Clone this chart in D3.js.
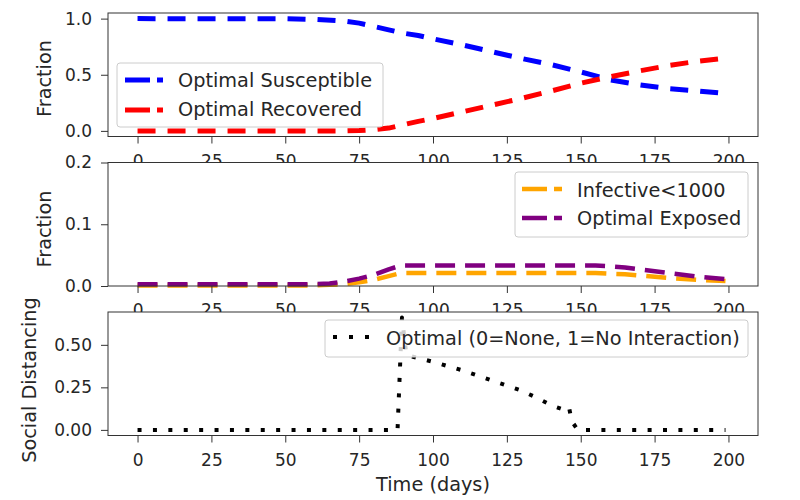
<!DOCTYPE html>
<html>
<head>
<meta charset="utf-8">
<script src="https://cdn.jsdelivr.net/npm/d3@7"></script>
<style>
  body { margin: 0; background: #fff; }
  svg { display: block; }
  text { font-family: "DejaVu Sans", sans-serif; fill: #262626; }
</style>
</head>
<body>
<svg id="chart" width="800" height="500"></svg>
<script>
// ---------------- data ----------------
const xTicks = [0, 25, 50, 75, 100, 125, 150, 175, 200];

// panel 1: susceptible / recovered
const timeSR = [0, 50, 60, 70, 75, 80, 85, 90, 95, 100, 110, 120, 130, 140, 150, 160, 170, 180, 190, 199];
const optimalSusceptible = [1.0, 0.999, 0.993, 0.978, 0.96, 0.93, 0.9, 0.87, 0.85, 0.82, 0.765, 0.705, 0.645, 0.59, 0.525, 0.455, 0.41, 0.375, 0.355, 0.333];
const optimalRecovered   = [0.0, 0.0, 0.0, 0.0, 0.003, 0.01, 0.025, 0.055, 0.085, 0.11, 0.17, 0.23, 0.29, 0.355, 0.425, 0.482, 0.535, 0.583, 0.622, 0.648];
const yTicks1 = [0.0, 0.5, 1.0];
const yLabels1 = ["0.0", "0.5", "1.0"];

// panel 2: infective / exposed
const timeEI = [0, 60, 65, 70, 75, 80, 85, 89, 90, 155, 160, 165, 170, 180, 190, 199];
const infective = [0.001, 0.001, 0.002, 0.003, 0.006, 0.01, 0.016, 0.021, 0.021, 0.021, 0.02, 0.019, 0.017, 0.013, 0.01, 0.008];
const optimalExposed = [0.003, 0.003, 0.004, 0.007, 0.012, 0.018, 0.027, 0.033, 0.033, 0.033, 0.032, 0.03, 0.027, 0.021, 0.015, 0.011];
const yTicks2 = [0.0, 0.1, 0.2];
const yLabels2 = ["0.0", "0.1", "0.2"];

// panel 3: social distancing
const timeSD = [0, 88, 89.5, 91, 100, 110, 120, 130, 135, 140, 144, 146, 147, 149, 199];
const optimalDistancing = [0, 0, 0.66, 0.44, 0.40, 0.35, 0.29, 0.23, 0.19, 0.145, 0.12, 0.135, 0.05, 0, 0];
const yTicks3 = [0.0, 0.25, 0.5];
const yLabels3 = ["0.00", "0.25", "0.50"];

// ---------------- layout ----------------
const svg = d3.select("#chart");
const L = 108, R = 758, H = 123.5;
const tops = [13, 162.5, 312];
const x = d3.scaleLinear().domain([-10, 210]).range([L, R]);
const TICK_FS = 17, LABEL_FS = 19.3, LEG_FS = 19.3;

function drawAxes(g, y, top, yTicks, yLabels) {
  const bottom = top + H;
  const xa = d3.axisBottom(x).tickValues(xTicks).tickSize(7).tickSizeOuter(0).tickPadding(11).tickFormat(d3.format("d"));
  const gx = g.append("g").attr("transform", `translate(0,${bottom})`).call(xa);
  gx.select(".domain").remove();
  gx.selectAll("line").attr("stroke", "#333").attr("stroke-width", 1);
  gx.selectAll("text").attr("font-size", TICK_FS).attr("font-family", "DejaVu Sans").attr("fill", "#262626");

  const ya = d3.axisLeft(y).tickValues(yTicks).tickSize(7).tickSizeOuter(0).tickPadding(9)
    .tickFormat((d, i) => yLabels[i]);
  const gy = g.append("g").attr("transform", `translate(${L},0)`).call(ya);
  gy.select(".domain").remove();
  gy.selectAll("line").attr("stroke", "#333").attr("stroke-width", 1);
  gy.selectAll("text").attr("font-size", TICK_FS).attr("font-family", "DejaVu Sans").attr("fill", "#262626");

  g.append("rect").attr("x", L).attr("y", top).attr("width", R - L).attr("height", H)
    .attr("fill", "none").attr("stroke", "#333").attr("stroke-width", 1);
}

function drawLine(g, xs, ys, y, color, width, dash) {
  const pts = xs.map((t, i) => [t, ys[i]]);
  const line = d3.line().x(d => x(d[0])).y(d => y(d[1]));
  g.append("path").datum(pts).attr("d", line).attr("fill", "none")
    .attr("stroke", color).attr("stroke-width", width)
    .attr("stroke-dasharray", dash).attr("stroke-linecap", "butt").attr("stroke-linejoin", "round");
}

function drawLegend(g, box, entries) {
  g.append("rect").attr("x", box.x).attr("y", box.y).attr("width", box.w).attr("height", box.h)
    .attr("rx", 3).attr("fill", "#fff").attr("fill-opacity", 0.8)
    .attr("stroke", "#cccccc").attr("stroke-width", 1);
  entries.forEach(e => {
    g.append("line").attr("x1", e.hx).attr("x2", e.hx + e.hl).attr("y1", e.hy).attr("y2", e.hy)
      .attr("stroke", e.color).attr("stroke-width", e.width).attr("stroke-dasharray", e.dash);
    g.append("text").attr("x", e.tx).attr("y", e.ty).attr("font-size", LEG_FS).text(e.label);
  });
}

function panelBg(top) {
  return svg.append("rect").attr("x", L).attr("y", top).attr("width", R - L).attr("height", H).attr("fill", "#fff");
}

// ---------------- panel 1 ----------------
{
  const top = tops[0];
  const y = d3.scaleLinear().domain([-0.05, 1.05]).range([top + H, top]);
  panelBg(top);
  const g = svg.append("g");
  drawLine(g, timeSR, optimalSusceptible, y, "blue", 5, "18,12");
  drawLine(g, timeSR, optimalRecovered, y, "red", 5, "18,12");
  drawAxes(g, y, top, yTicks1, yLabels1);
  drawLegend(g, { x: 117, y: 63, w: 266, h: 64 }, [
    { hx: 125, hl: 38, hy: 80, color: "blue", width: 5, dash: "25,7", tx: 178, ty: 87, label: "Optimal Susceptible" },
    { hx: 125, hl: 38, hy: 110, color: "red", width: 5, dash: "25,7", tx: 178, ty: 116, label: "Optimal Recovered" }
  ]);
  g.append("text").attr("transform", "translate(50.5,78.5) rotate(-90)").attr("text-anchor", "middle")
    .attr("font-size", LABEL_FS).text("Fraction");
}

// ---------------- panel 2 ----------------
{
  const top = tops[1];
  const y = d3.scaleLinear().domain([0, 0.2]).range([top + H, top]);
  panelBg(top);
  const g = svg.append("g");
  drawLine(g, timeEI, infective, y, "orange", 4.5, "20,10");
  drawLine(g, timeEI, optimalExposed, y, "purple", 4.5, "20,10");
  drawAxes(g, y, top, yTicks2, yLabels2);
  drawLegend(g, { x: 515, y: 172, w: 233, h: 65 }, [
    { hx: 522, hl: 40, hy: 189, color: "orange", width: 4.5, dash: "25,7", tx: 577, ty: 197, label: "Infective<1000" },
    { hx: 522, hl: 40, hy: 218, color: "purple", width: 4.5, dash: "25,7", tx: 577, ty: 225, label: "Optimal Exposed" }
  ]);
  g.append("text").attr("transform", "translate(50.5,229) rotate(-90)").attr("text-anchor", "middle")
    .attr("font-size", LABEL_FS).text("Fraction");
}

// ---------------- panel 3 ----------------
{
  const top = tops[2];
  const y = d3.scaleLinear().domain([-0.033, 0.693]).range([top + H, top]);
  panelBg(top);
  const g = svg.append("g");
  drawLine(g, timeSD, optimalDistancing, y, "black", 4, "4,11.4");
  drawAxes(g, y, top, yTicks3, yLabels3);
  drawLegend(g, { x: 325, y: 320, w: 423, h: 37 }, [
    { hx: 333, hl: 37, hy: 337, color: "black", width: 4, dash: "4,12", tx: 386, ty: 345, label: "Optimal (0=None, 1=No Interaction)" }
  ]);
  g.append("text").attr("transform", "translate(35.5,380) rotate(-90)").attr("text-anchor", "middle")
    .attr("font-size", LABEL_FS).text("Social Distancing");
  g.append("text").attr("x", (L + R) / 2).attr("y", 490.5).attr("text-anchor", "middle")
    .attr("font-size", LABEL_FS).text("Time (days)");
}
</script>
</body>
</html>
